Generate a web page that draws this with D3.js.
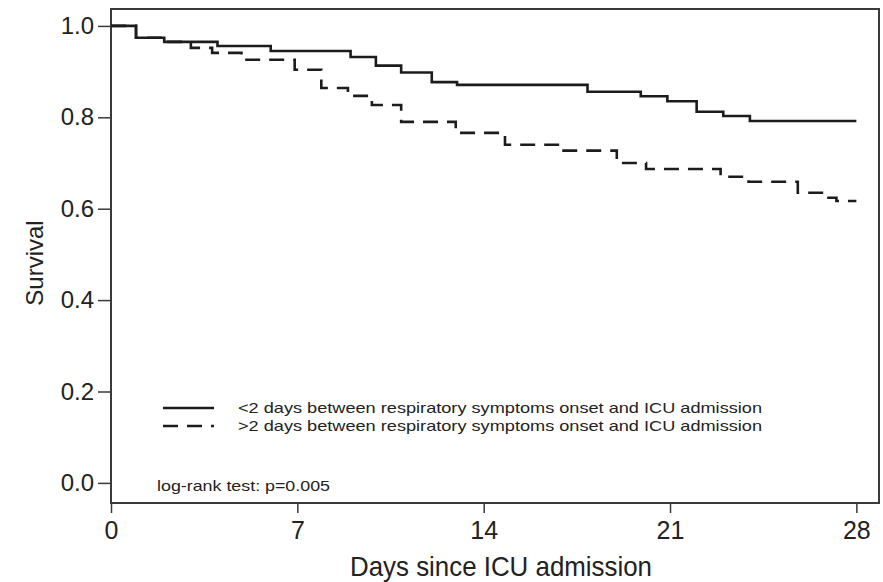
<!DOCTYPE html>
<html>
<head>
<meta charset="utf-8">
<script src="https://cdn.jsdelivr.net/npm/d3@7"></script>
<style>
  body { margin: 0; background: #fff; }
  text { font-family: "Liberation Sans", Arial, sans-serif; fill: #222; }
</style>
</head>
<body>
<div id="chart"></div>
<script>
  /**
   * DATA
   * */
  const solidDays = [0, 0.94, 2.0, 4.0, 6.0, 9.0, 9.95, 10.9, 12.05, 13.0, 17.9, 19.9, 20.9, 22.0, 23.0, 24.0, 28];
  const solidSurv = [1.0, 0.974, 0.965, 0.956, 0.945, 0.932, 0.913, 0.898, 0.877, 0.871, 0.856, 0.846, 0.835, 0.812, 0.803, 0.792, 0.792];

  const dashedDays = [0, 0.94, 2.0, 3.0, 3.8, 4.9, 6.9, 7.9, 8.9, 9.8, 10.9, 12.95, 14.8, 16.9, 19.0, 20.1, 22.9, 23.95, 25.8, 26.8, 27.25, 28];
  const dashedSurv = [1.0, 0.974, 0.965, 0.952, 0.941, 0.926, 0.904, 0.864, 0.847, 0.827, 0.790, 0.766, 0.740, 0.727, 0.700, 0.687, 0.670, 0.659, 0.635, 0.624, 0.617, 0.617];

  const xTicks = [0, 7, 14, 21, 28];
  const yTicks = [0.0, 0.2, 0.4, 0.6, 0.8, 1.0];
  const legendLabels = [
    "<2 days between respiratory symptoms onset and ICU admission",
    ">2 days between respiratory symptoms onset and ICU admission"
  ];
  const noteText = "log-rank test: p=0.005";

  /**
   * CONSTANTS
   * */
  const width = 883, height = 582;
  const frame = { left: 111, right: 879, top: 9, bottom: 503 };
  const dash = "15,9";

  const svg = d3.select("#chart")
    .append("svg")
    .attr("width", width)
    .attr("height", height);

  const xScale = d3.scaleLinear()
    .domain([0, 28.85])
    .range([frame.left, frame.right]);

  const yScale = d3.scaleLinear()
    .domain([-0.044, 1.037])
    .range([frame.bottom, frame.top]);

  // frame
  svg.append("rect")
    .attr("x", frame.left)
    .attr("y", frame.top)
    .attr("width", frame.right - frame.left)
    .attr("height", frame.bottom - frame.top)
    .attr("fill", "none")
    .attr("stroke", "#3a3a3a")
    .attr("stroke-width", 2);

  // axes
  const xAxis = d3.axisBottom(xScale)
    .tickValues(xTicks)
    .tickFormat(d3.format("d"))
    .tickSize(10)
    .tickSizeOuter(0)
    .tickPadding(8);

  const yAxis = d3.axisLeft(yScale)
    .tickValues(yTicks)
    .tickFormat(d3.format(".1f"))
    .tickSize(13)
    .tickSizeOuter(0)
    .tickPadding(4);

  svg.append("g")
    .attr("class", "x-axis")
    .attr("transform", `translate(0, ${frame.bottom})`)
    .call(xAxis)
    .call(g => g.select(".domain").remove())
    .call(g => g.selectAll("line").attr("stroke", "#3a3a3a").attr("stroke-width", 1.5))
    .selectAll("text")
    .style("font-size", "25px")
    .attr("fill", "#222");

  svg.append("g")
    .attr("class", "y-axis")
    .attr("transform", `translate(${frame.left}, 0)`)
    .call(yAxis)
    .call(g => g.select(".domain").remove())
    .call(g => g.selectAll("line").attr("stroke", "#3a3a3a").attr("stroke-width", 1.5))
    .selectAll("text")
    .style("font-size", "24px")
    .attr("fill", "#222");

  // axis titles
  svg.append("text")
    .attr("x", 350)
    .attr("y", 576)
    .attr("textLength", 302)
    .attr("lengthAdjust", "spacingAndGlyphs")
    .style("font-size", "28px")
    .text("Days since ICU admission");

  svg.append("text")
    .attr("transform", "translate(43, 263) rotate(-90)")
    .attr("text-anchor", "middle")
    .style("font-size", "24px")
    .text("Survival");

  // survival curves
  const lineFunc = d3.line()
    .curve(d3.curveStepAfter)
    .x(d => xScale(d[0]))
    .y(d => yScale(d[1]));

  const series = [
    { days: dashedDays, surv: dashedSurv, dashed: true },
    { days: solidDays, surv: solidSurv, dashed: false }
  ];

  svg.selectAll("path.trend")
    .data(series)
    .join("path")
    .attr("class", "trend")
    .attr("d", d => lineFunc(d.days.map((t, i) => [t, d.surv[i]])))
    .attr("fill", "none")
    .attr("stroke", "#1c1c1c")
    .attr("stroke-width", 2.6)
    .attr("stroke-dasharray", d => d.dashed ? dash : null);

  // legend
  const legend = svg.append("g").attr("class", "legend");
  legendLabels.forEach((label, i) => {
    const ly = 408 + i * 18;
    legend.append("line")
      .attr("x1", 163).attr("x2", 214)
      .attr("y1", ly).attr("y2", ly)
      .attr("stroke", "#1c1c1c")
      .attr("stroke-width", 2.6)
      .attr("stroke-dasharray", i === 1 ? dash : null);
    legend.append("text")
      .attr("x", 238)
      .attr("y", ly + 5)
      .attr("textLength", 524)
      .attr("lengthAdjust", "spacingAndGlyphs")
      .style("font-size", "15px")
      .text(label);
  });

  svg.append("text")
    .attr("x", 157)
    .attr("y", 491)
    .attr("textLength", 173)
    .attr("lengthAdjust", "spacingAndGlyphs")
    .style("font-size", "15px")
    .text(noteText);
</script>
</body>
</html>
